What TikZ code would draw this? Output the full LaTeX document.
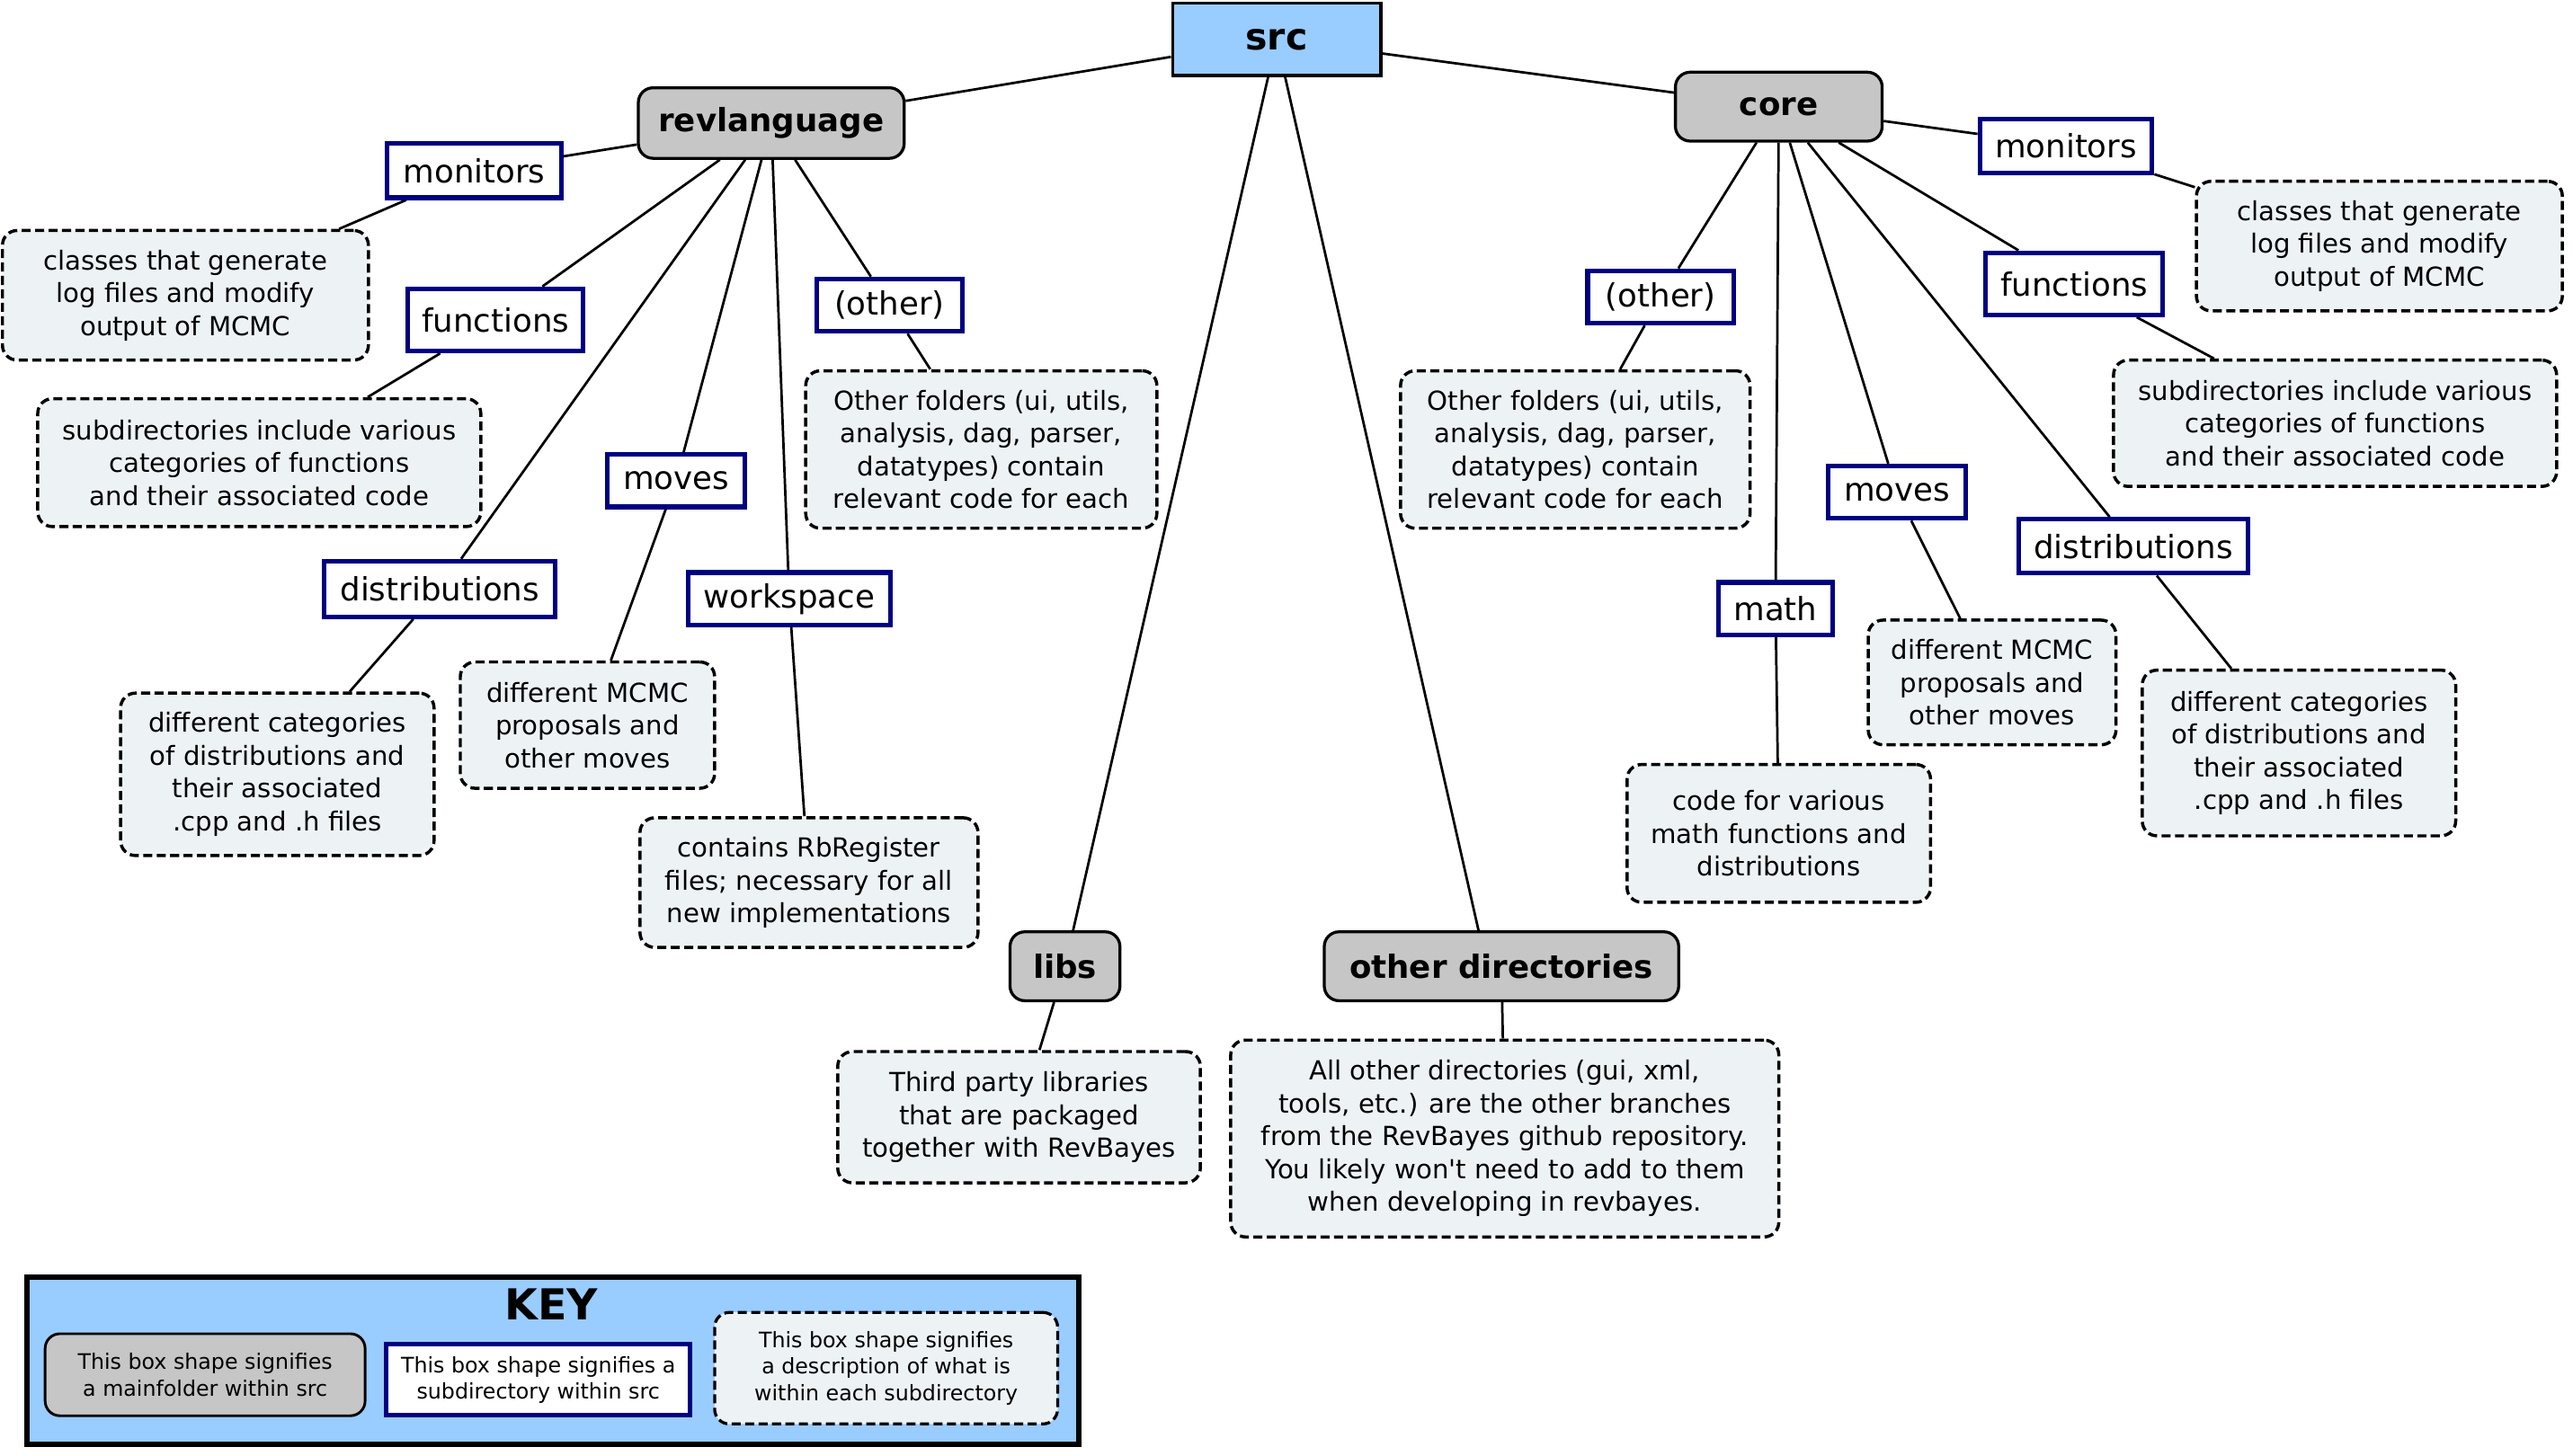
\documentclass[tikz,border=0pt]{standalone}
\usepackage{fontspec}
\setmainfont{DejaVu Sans}
\usetikzlibrary{backgrounds}
\definecolor{srcblue}{HTML}{99CCFF}
\definecolor{mainfill}{HTML}{C6C6C6}
\definecolor{subnavy}{HTML}{000080}
\definecolor{descfill}{HTML}{EDF3F5}
\begin{document}
\begin{tikzpicture}[x=1pt,y=-1pt,
  mainbox/.style={rectangle,rounded corners=9pt,draw=black,fill=mainfill,line width=1.8pt,inner sep=0pt,font=\fontsize{19.5}{23}\selectfont\bfseries},
  srcbox/.style={rectangle,draw=black,fill=srcblue,line width=1.8pt,inner sep=0pt,font=\fontsize{22.5}{26}\selectfont\bfseries},
  subbox/.style={rectangle,draw=subnavy,fill=white,line width=2.8pt,inner sep=0pt,font=\fontsize{19.5}{23}\selectfont},
  descbox/.style={rectangle,rounded corners=9pt,draw=black,fill=descfill,line width=1.9pt,dash pattern=on 5.5pt off 2.7pt,inner sep=0pt,align=center,font=\fontsize{16}{20}\selectfont},
  conn/.style={draw=black,line width=1.5pt},
  keytext/.style={font=\fontsize{13}{16}\selectfont,align=center}
]
\useasboundingbox (0,0) rectangle (1568,887);

% main folders
\node[srcbox,minimum width=127pt,minimum height=44pt] (src) at (778,24) {src};
\node[mainbox,minimum width=162pt,minimum height=43pt] (revl) at (470,75) {revlanguage};
\node[mainbox,minimum width=126pt,minimum height=42pt] (core) at (1084,65) {core};
\node[mainbox,minimum width=67pt,minimum height=42pt] (libs) at (649,589) {libs};
\node[mainbox,minimum width=216pt,minimum height=42pt] (otherdirs) at (915,589) {other directories};

% revlanguage subdirectories
\node[subbox,minimum width=106pt,minimum height=33pt] (monL) at (289,104) {monitors};
\node[subbox,minimum width=107pt,minimum height=38pt] (funL) at (302,195) {functions};
\node[subbox,minimum width=89pt,minimum height=32pt] (othL) at (542,186) {(other)};
\node[subbox,minimum width=84pt,minimum height=32pt] (movL) at (412,293) {moves};
\node[subbox,minimum width=141pt,minimum height=34pt] (disL) at (268,359) {distributions};
\node[subbox,minimum width=123pt,minimum height=32pt] (wsp) at (481,365) {workspace};

% core subdirectories
\node[subbox,minimum width=105pt,minimum height=33pt] (monR) at (1259,89) {monitors};
\node[subbox,minimum width=108pt,minimum height=38pt] (funR) at (1264,173) {functions};
\node[subbox,minimum width=89pt,minimum height=32pt] (othR) at (1012,181) {(other)};
\node[subbox,minimum width=84pt,minimum height=32pt] (movR) at (1156,300) {moves};
\node[subbox,minimum width=70pt,minimum height=32pt] (math) at (1082,371) {math};
\node[subbox,minimum width=140pt,minimum height=33pt] (disR) at (1300,333) {distributions};

% descriptions left
\node[descbox,minimum width=223pt,minimum height=79pt] (dmonL) at (113,180) {classes that generate\\log files and modify\\output of MCMC};
\node[descbox,minimum width=270pt,minimum height=78pt] (dfunL) at (158,282) {subdirectories include various\\categories of functions\\and their associated code};
\node[descbox,minimum width=214pt,minimum height=96pt] (dothL) at (598,274) {Other folders (ui, utils,\\analysis, dag, parser,\\datatypes) contain\\relevant code for each};
\node[descbox,minimum width=191pt,minimum height=99pt] (ddisL) at (169,472) {different categories\\of distributions and\\their associated\\.cpp and .h files};
\node[descbox,minimum width=155pt,minimum height=77pt] (dmovL) at (358,442) {different MCMC\\proposals and\\other moves};
\node[descbox,minimum width=206pt,minimum height=79pt] (dwsp) at (493,538) {contains RbRegister\\files; necessary for all\\new implementations};
\node[descbox,minimum width=221pt,minimum height=80pt] (dlibs) at (621,681) {Third party libraries\\that are packaged\\together with RevBayes};
\node[descbox,minimum width=334pt,minimum height=120pt] (dother) at (917,694) {All other directories (gui, xml,\\tools, etc.) are the other branches\\from the RevBayes github repository.\\You likely won\textquotesingle t need to add to them\\when developing in revbayes.};

% descriptions right
\node[descbox,minimum width=223pt,minimum height=79pt] (dmonR) at (1450,150) {classes that generate\\log files and modify\\output of MCMC};
\node[descbox,minimum width=270pt,minimum height=77pt] (dfunR) at (1423,258) {subdirectories include various\\categories of functions\\and their associated code};
\node[descbox,minimum width=213pt,minimum height=96pt] (dothR) at (960,274) {Other folders (ui, utils,\\analysis, dag, parser,\\datatypes) contain\\relevant code for each};
\node[descbox,minimum width=151pt,minimum height=76pt] (dmovR) at (1214,416) {different MCMC\\proposals and\\other moves};
\node[descbox,minimum width=185pt,minimum height=84pt] (dmath) at (1084,508) {code for various\\math functions and\\distributions};
\node[descbox,minimum width=191pt,minimum height=101pt] (ddisR) at (1401,459) {different categories\\of distributions and\\their associated\\.cpp and .h files};

% key
\node[rectangle,draw=black,fill=srcblue,line width=3pt,minimum width=641pt,minimum height=102pt,inner sep=0pt] (key) at (337,829.5) {};
\node[font=\fontsize{26}{30}\selectfont\bfseries,inner sep=0pt] (keytitle) at (336,795) {KEY};
\node[rectangle,rounded corners=9pt,draw=black,fill=mainfill,line width=1.6pt,inner sep=0pt,minimum width=195pt,minimum height=50pt,keytext] (keymain) at (125,838) {This box shape signifies\\a mainfolder within src};
\node[rectangle,draw=subnavy,fill=white,line width=2.8pt,inner sep=0pt,minimum width=185pt,minimum height=43pt,keytext] (keysub) at (328,841) {This box shape signifies a\\subdirectory within src};
\node[rectangle,rounded corners=9pt,draw=black,fill=descfill,line width=1.8pt,dash pattern=on 5.5pt off 2.7pt,inner sep=0pt,minimum width=209pt,minimum height=68pt,keytext] (keydesc) at (540,834) {This box shape signifies\\a description of what is\\within each subdirectory};

% connectors
\begin{scope}[on background layer]
\draw[conn] (src) -- (revl);
\draw[conn] (src) -- (core);
\draw[conn] (src) -- (libs);
\draw[conn] (src) -- ([xshift=-14pt]otherdirs.north);
\draw[conn] (revl) -- (monL);
\draw[conn] (revl) -- (funL);
\draw[conn] (revl) -- (disL);
\draw[conn] (revl) -- (movL);
\draw[conn] (revl) -- (wsp);
\draw[conn] (revl) -- (othL);
\draw[conn] (monL) -- (dmonL);
\draw[conn] (funL) -- (dfunL);
\draw[conn] (othL) -- (dothL);
\draw[conn] (movL) -- (dmovL);
\draw[conn] (disL) -- (ddisL);
\draw[conn] (wsp) -- (dwsp);
\draw[conn] (libs) -- (dlibs);
\draw[conn] (otherdirs) -- (dother);
\draw[conn] (core) -- (monR);
\draw[conn] (core) -- (funR);
\draw[conn] (core) -- (othR);
\draw[conn] (core) -- (movR);
\draw[conn] (core) -- (math);
\draw[conn] (core) -- (disR);
\draw[conn] (monR) -- (dmonR);
\draw[conn] (funR) -- (dfunR);
\draw[conn] (othR) -- (dothR);
\draw[conn] (movR) -- (dmovR);
\draw[conn] (math) -- (dmath);
\draw[conn] (disR) -- (ddisR);
\end{scope}
\end{tikzpicture}
\end{document}
